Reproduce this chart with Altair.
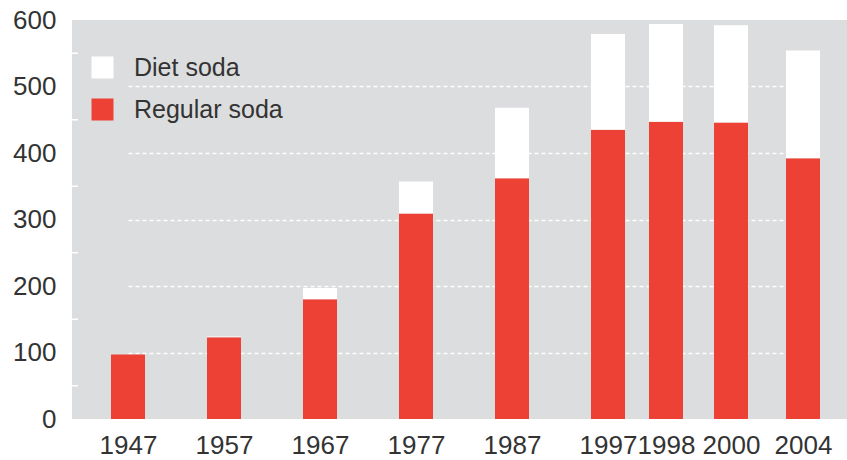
import altair as alt
import pandas as pd

# Annual soft-drink consumption, split into regular and diet
years = [1947, 1957, 1967, 1977, 1987, 1997, 1998, 2000, 2004]
regular_soda = [97, 123, 180, 309, 362, 435, 447, 446, 392]
diet_soda = [0, 1, 17, 48, 106, 144, 147, 146, 162]
y_ticks = [0, 100, 200, 300, 400, 500, 600]
minor_ticks = [50, 150, 250, 350, 450, 550]

series = ["Diet soda", "Regular soda"]
colors = ["#ffffff", "#ee4136"]

rows = []
for yr, reg, diet in zip(years, regular_soda, diet_soda):
    rows.append({"year": yr, "kind": "Regular soda", "value": reg, "stack": 0})
    rows.append({"year": yr, "kind": "Diet soda", "value": diet, "stack": 1})
df = pd.DataFrame(rows)

FONT = "Liberation Sans"
TEXT = "#333333"

# Bars sit on a piecewise year axis: the decades are evenly spaced,
# the recent years are packed closer together.
x_scale = alt.Scale(
    domain=[1947, 1997, 1998, 2000, 2004],
    range=[56, 536, 594, 659, 731],
    zero=False,
    nice=False,
    padding=0,
)

bars = alt.Chart(df).mark_bar(size=34).encode(
    x=alt.X(
        "year:Q",
        scale=x_scale,
        axis=alt.Axis(
            values=years, format="d", title=None, domain=False, ticks=False,
            grid=False, labelFont=FONT, labelFontSize=26, labelColor=TEXT,
            labelPadding=13, labelFlush=False, labelOverlap=False,
        ),
    ),
    y=alt.Y(
        "value:Q",
        stack="zero",
        scale=alt.Scale(domain=[0, 600], nice=False),
        axis=alt.Axis(
            values=y_ticks, title=None, domain=False, ticks=False,
            labelFont=FONT, labelFontSize=26, labelColor=TEXT, labelPadding=16,
            labelOverlap=False,
            grid=True, gridColor="#ffffff", gridDash=[4, 3], gridWidth=1.5,
            gridOpacity=alt.ExprRef("datum.value > 0 && datum.value < 600 ? 1 : 0"),
        ),
    ),
    color=alt.Color(
        "kind:N",
        scale=alt.Scale(domain=series, range=colors),
        legend=alt.Legend(
            title=None, orient="none", legendX=18, legendY=35,
            symbolType="square", symbolSize=484, symbolStrokeWidth=0,
            symbolOpacity=1, labelFont=FONT, labelFontSize=25,
            labelColor=TEXT, labelOffset=19, rowPadding=16, padding=0,
        ),
    ),
    order=alt.Order("stack:Q", sort="ascending"),
)

minor = alt.Chart(pd.DataFrame({"v": minor_ticks})).mark_rule(
    color="#ffffff", strokeWidth=1.5
).encode(
    y="v:Q",
    x=alt.value(0),
    x2=alt.value(6),
)

chart = (
    alt.layer(minor, bars)
    .properties(
        width=775,
        height=399,
        autosize=alt.AutoSizeParams(type="none"),
        padding={"left": 72, "top": 20, "right": 0, "bottom": 41},
        background="#ffffff",
    )
    .configure_view(fill="#dcdddf", stroke=None)
)

chart.save("out.html", embed_options={"renderer": "svg", "actions": False})
